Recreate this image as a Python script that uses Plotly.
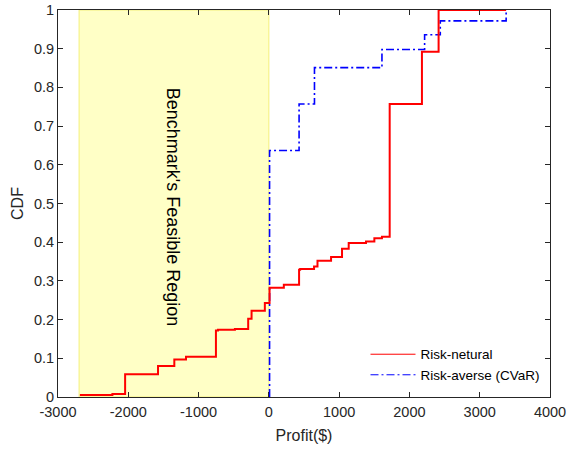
import plotly.graph_objects as go

# Data
red_x = [-2689, -2226, -2045, -1577, -1345, -1179, -753, -724, -483, -294, -246, -57, 10,
         213, 430, 445, 643, 692, 885, 1041, 1136, 1382, 1501, 1609, 1719, 2178, 2415, 3376]
red_y = [0.005, 0.008, 0.059, 0.080, 0.097, 0.104, 0.172, 0.174, 0.176, 0.202, 0.223, 0.243, 0.282,
         0.290, 0.329, 0.331, 0.337, 0.352, 0.362, 0.383, 0.398, 0.402, 0.410, 0.414, 0.757, 0.892, 1.0, 1.0]
blue_x = [10, 10, 430, 649, 1609, 2216, 2439, 3376]
blue_y = [0, 0.637, 0.757, 0.851, 0.898, 0.936, 0.972, 1.0]
region_x = [-2700, 0]
x_ticks = [-3000, -2000, -1000, 0, 1000, 2000, 3000, 4000]
y_ticks = [0, 0.1, 0.2, 0.3, 0.4, 0.5, 0.6, 0.7, 0.8, 0.9, 1]

FONT = "Liberation Sans, Arial, sans-serif"
RED = "#FF0000"
BLUE = "#0000FF"
DASHDOT = "8px,3px,2px,3px"

fig = go.Figure()
fig.add_shape(type="rect", xref="x", yref="y", x0=region_x[0], x1=region_x[1], y0=0, y1=1,
              fillcolor="#FFFFC6", line=dict(color="#F4F07A", width=1), layer="below")
fig.add_trace(go.Scatter(x=blue_x, y=blue_y, mode="lines", line_shape="hv",
                         line=dict(color=BLUE, width=1.6, dash=DASHDOT),
                         name="Risk-averse (CVaR)", showlegend=False))
fig.add_trace(go.Scatter(x=red_x, y=red_y, mode="lines", line_shape="hv",
                         line=dict(color=RED, width=2), name="Risk-netural", showlegend=False))
# legend entries (thin lines as in the reference legend)
fig.add_trace(go.Scatter(x=[None], y=[None], mode="lines", line=dict(color=RED, width=1),
                         name="Risk-netural"))
fig.add_trace(go.Scatter(x=[None], y=[None], mode="lines", line=dict(color=BLUE, width=1, dash=DASHDOT),
                         name="Risk-averse (CVaR)"))

fig.add_annotation(x=-1370, y=0.49, xref="x", yref="y", text="Benchmark's Feasible Region",
                   textangle=90, showarrow=False, font=dict(family=FONT, size=18, color="#000000"))

axis_common = dict(showgrid=False, zeroline=False, showline=True, linecolor="#262626", linewidth=1,
                   mirror="ticks", ticks="inside", ticklen=5, tickcolor="#262626", automargin=False,
                   tickfont=dict(family=FONT, size=14.5, color="#262626"))
fig.update_xaxes(range=[-3000, 4000], tickvals=x_ticks, ticktext=[str(v) for v in x_ticks],
                 ticklabelstandoff=2,
                 title=dict(text="Profit($)", font=dict(family=FONT, size=16, color="#262626"), standoff=10),
                 **axis_common)
fig.update_yaxes(range=[0, 1], tickvals=y_ticks, ticktext=[("%g" % v) for v in y_ticks],
                 title=dict(text="CDF", font=dict(family=FONT, size=16, color="#262626"), standoff=6),
                 **axis_common)
fig.update_layout(width=568, height=450, margin=dict(l=58, r=18, t=10, b=53),
                  plot_bgcolor="white", paper_bgcolor="white",
                  legend=dict(x=0.625, y=0.15, xanchor="left", yanchor="top",
                              bgcolor="rgba(255,255,255,0)", borderwidth=0,
                              font=dict(family=FONT, size=13.5, color="#000000"),
                              tracegroupgap=0, itemwidth=45))
fig.write_html("out.html")
